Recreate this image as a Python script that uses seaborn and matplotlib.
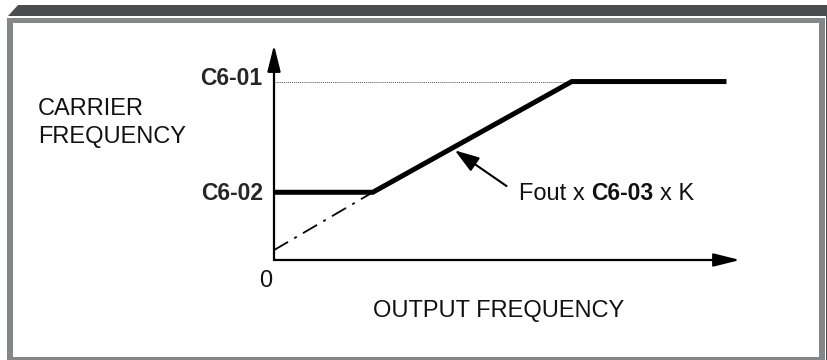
import matplotlib
matplotlib.use('Agg')
import matplotlib.pyplot as plt
from matplotlib.patches import Polygon, Rectangle
import seaborn as sns

# output frequency runs 0-100 along the axis, carrier frequency 0-100 up the axis
fout = [0, 21.2, 63.9, 97.1]
carrier = [31.5, 31.5, 83.0, 83.0]
# sloped part extended back to 0 Hz (dash-dot)
ext_fout = [0, 21.2]
ext_carrier = [4.6, 31.5]
c6_01 = 83.0
c6_02 = 31.5
arrow_tip = (38.8, 51.0)
arrow_tail = (49.9, 34.4)

W, H = 828, 360


def fx(px):
    return px / W


def fy(py):
    return 1 - py / H


sns.set_theme(style='white')
plt.rcParams['font.family'] = ['Liberation Sans', 'DejaVu Sans']

fig = plt.figure(figsize=(8.28, 3.6), dpi=100)
fig.patch.set_facecolor('white')

# panel frame (kept behind the axes)
dark = '#4b4c4e'
gray = '#858688'
frame = [
    Polygon([(fx(8), fy(16)), (fx(18), fy(5)), (1, fy(5)), (1, fy(16))], closed=True),
    Rectangle((fx(826), 0), fx(2), fy(5)),
    Rectangle((fx(7), 0), fx(818), fy(17.5)),
    Rectangle((fx(13), fy(357)), fx(806), fy(23) - fy(357)),
]
for p, c in zip(frame, [dark, dark, gray, 'white']):
    p.set_transform(fig.transFigure)
    p.set_color(c)
    p.set_linewidth(0)
    p.set_zorder(-5)
    fig.add_artist(p)

ax = fig.add_axes([fx(274), fy(260), fx(740) - fx(274), (260 - 45) / H])
ax.set_zorder(5)
ax.set_xlim(0, 100)
ax.set_ylim(0, 100)
ax.axis('off')
ax.patch.set_alpha(0)

# axes with arrow heads
axis_arrow = dict(arrowstyle='-|>,head_length=16,head_width=4', mutation_scale=1,
                  lw=1.6, color='black', shrinkA=0, shrinkB=0)
ax.annotate('', xy=(0, 1), xytext=(0, 0), xycoords='axes fraction',
            textcoords='axes fraction', arrowprops=axis_arrow)
ax.annotate('', xy=(1, 0), xytext=(0, 0), xycoords='axes fraction',
            textcoords='axes fraction', arrowprops=axis_arrow)

sns.lineplot(x=[0, fout[2]], y=[c6_01, c6_01], ax=ax, color='#555555', lw=0.7,
             linestyle=(0, (1, 1)))
sns.lineplot(x=ext_fout, y=ext_carrier, ax=ax, color='black', lw=1.3,
             linestyle=(0, (9, 4, 1.6, 4)))
sns.lineplot(x=fout, y=carrier, ax=ax, color='black', lw=3.6, sort=False,
             estimator=None, solid_capstyle='butt', solid_joinstyle='miter')

ax.annotate('', xy=arrow_tip, xytext=arrow_tail,
            arrowprops=dict(arrowstyle='-|>,head_length=15,head_width=5', mutation_scale=1,
                            lw=1.5, color='black', shrinkA=0, shrinkB=0))

fs = 17
bfs = 16.5
fig.text(fx(38), fy(115), 'CARRIER', fontsize=fs, va='baseline', color='#111111')
fig.text(fx(38), fy(143), 'FREQUENCY', fontsize=fs, va='baseline', color='#111111')
fig.text(fx(262), fy(85), 'C6-01', fontsize=bfs, fontweight='bold', ha='right', va='baseline')
fig.text(fx(263), fy(200), 'C6-02', fontsize=bfs, fontweight='bold', ha='right', va='baseline')
fig.text(fx(266), fy(287), '0', fontsize=fs, ha='center', va='baseline', color='#111111')
fig.text(fx(499), fy(317), 'OUTPUT FREQUENCY', fontsize=fs, ha='center', va='baseline',
         color='#111111')

# formula label, bold parameter in the middle
r = fig.canvas.get_renderer()
x = fx(519)
space = 0.278 * fs * 100 / 72
for s, w in [('Fout x', 'normal'), ('C6-03', 'bold'), ('x K', 'normal')]:
    t = fig.text(x, fy(200), s, fontsize=fs if w == 'normal' else bfs, fontweight=w,
                 va='baseline', color='#111111')
    bb = t.get_window_extent(r)
    x = (bb.x1 + space) / W

fig.savefig('out.png', dpi=100)
